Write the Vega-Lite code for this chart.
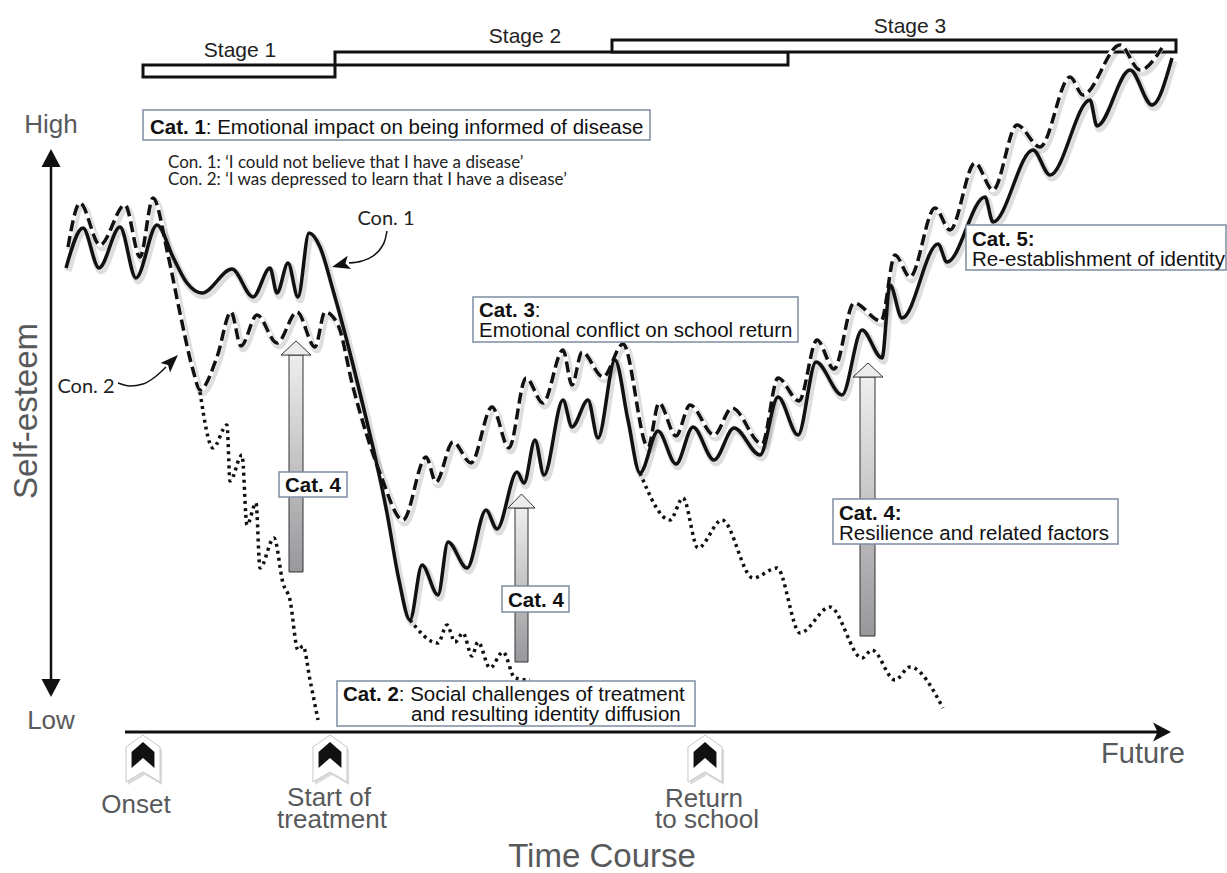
{
  "$schema": "https://vega.github.io/schema/vega-lite/v6.json",
  "width": 1227,
  "height": 873,
  "autosize": {"type": "none"},
  "padding": 0,
  "background": "white",
  "config": {"view": {"stroke": null}},
  "datasets": {
    "solid": [
      {"x":66,"y":268},{"x":83,"y":228},{"x":99,"y":268},{"x":120,"y":227},{"x":136,"y":278},{"x":157,"y":225},{"x":173,"y":257},{"x":187,"y":283},{"x":202,"y":293},{"x":232,"y":269},{"x":253,"y":297},{"x":270,"y":268},{"x":277,"y":293},{"x":288,"y":263},{"x":298,"y":297},{"x":309,"y":233},{"x":320,"y":247},{"x":333,"y":290},{"x":360,"y":393},{"x":387,"y":513},{"x":399,"y":580},{"x":410,"y":620},{"x":422,"y":565},{"x":438,"y":595},{"x":448,"y":542},{"x":467,"y":568},{"x":486,"y":510},{"x":497,"y":529},{"x":517,"y":472},{"x":524,"y":483},{"x":535,"y":440},{"x":544,"y":475},{"x":563,"y":400},{"x":572,"y":427},{"x":588,"y":400},{"x":598,"y":438},{"x":615,"y":360},{"x":628,"y":420},{"x":640,"y":473},{"x":658,"y":431},{"x":676,"y":464},{"x":693,"y":427},{"x":714,"y":460},{"x":734,"y":428},{"x":760,"y":455},{"x":778,"y":397},{"x":798,"y":435},{"x":816,"y":362},{"x":842,"y":395},{"x":862,"y":330},{"x":882,"y":358},{"x":890,"y":285},{"x":902,"y":318},{"x":938,"y":244},{"x":947,"y":262},{"x":985,"y":197},{"x":993,"y":222},{"x":1033,"y":150},{"x":1050,"y":175},{"x":1090,"y":100},{"x":1097,"y":126},{"x":1130,"y":70},{"x":1152,"y":105},{"x":1172,"y":58}
    ],
    "dashed": [
      {"x":68,"y":247},{"x":80,"y":203},{"x":100,"y":245},{"x":125,"y":205},{"x":140,"y":257},{"x":153,"y":198},{"x":168,"y":255},{"x":180,"y":313},{"x":193,"y":370},{"x":200,"y":390},{"x":217,"y":357},{"x":231,"y":312},{"x":241,"y":346},{"x":257,"y":315},{"x":277,"y":343},{"x":297,"y":312},{"x":315,"y":347},{"x":325,"y":312},{"x":338,"y":325},{"x":353,"y":387},{"x":380,"y":473},{"x":403,"y":520},{"x":426,"y":457},{"x":436,"y":482},{"x":453,"y":442},{"x":471,"y":463},{"x":492,"y":407},{"x":509,"y":448},{"x":526,"y":378},{"x":543,"y":403},{"x":563,"y":350},{"x":572,"y":385},{"x":582,"y":352},{"x":603,"y":377},{"x":623,"y":344},{"x":648,"y":447},{"x":659,"y":403},{"x":676,"y":436},{"x":690,"y":405},{"x":714,"y":435},{"x":732,"y":408},{"x":762,"y":444},{"x":778,"y":378},{"x":799,"y":401},{"x":817,"y":340},{"x":834,"y":369},{"x":854,"y":303},{"x":881,"y":321},{"x":895,"y":255},{"x":910,"y":277},{"x":935,"y":208},{"x":950,"y":230},{"x":975,"y":163},{"x":993,"y":190},{"x":1017,"y":125},{"x":1040,"y":147},{"x":1070,"y":77},{"x":1083,"y":95},{"x":1120,"y":45},{"x":1140,"y":70},{"x":1162,"y":48}
    ],
    "dotted": [
      {"s":1,"x":200,"y":392},{"s":1,"x":213,"y":448},{"s":1,"x":227,"y":425},{"s":1,"x":230,"y":481},{"s":1,"x":242,"y":455},{"s":1,"x":247,"y":525},{"s":1,"x":256,"y":503},{"s":1,"x":260,"y":568},{"s":1,"x":274,"y":538},{"s":1,"x":283,"y":583},{"s":1,"x":290,"y":600},{"s":1,"x":298,"y":650},{"s":1,"x":303,"y":646},{"s":1,"x":310,"y":680},{"s":1,"x":318,"y":720},
      {"s":2,"x":410,"y":620},{"s":2,"x":438,"y":643},{"s":2,"x":447,"y":625},{"s":2,"x":455,"y":642},{"s":2,"x":463,"y":633},{"s":2,"x":472,"y":656},{"s":2,"x":478,"y":642},{"s":2,"x":490,"y":668},{"s":2,"x":503,"y":652},{"s":2,"x":515,"y":678},{"s":2,"x":530,"y":680},
      {"s":3,"x":640,"y":473},{"s":3,"x":670,"y":520},{"s":3,"x":683,"y":498},{"s":3,"x":698,"y":548},{"s":3,"x":722,"y":520},{"s":3,"x":753,"y":578},{"s":3,"x":777,"y":568},{"s":3,"x":800,"y":633},{"s":3,"x":830,"y":607},{"s":3,"x":862,"y":658},{"s":3,"x":872,"y":650},{"s":3,"x":895,"y":680},{"s":3,"x":910,"y":667},{"s":3,"x":943,"y":708}
    ],
    "chev": [{"x":143,"y":759},{"x":330,"y":759},{"x":705,"y":759}],
    "chevIn": [{"x":143,"y":755},{"x":330,"y":755},{"x":705,"y":755}]
  },
  "encoding": {
    "x": {"field": "x", "type": "quantitative", "scale": {"domain": [0, 1227], "nice": false, "zero": false}, "axis": null},
    "y": {"field": "y", "type": "quantitative", "scale": {"domain": [0, 873], "nice": false, "zero": false, "reverse": true}, "axis": null}
  },
  "layer": [
    {
      "data": {"values": [{"x":143,"x2":335,"y":65,"y2":77},{"x":335,"x2":788,"y":52,"y2":65},{"x":612,"x2":1176,"y":40,"y2":52}]},
      "mark": {"type": "rect", "fill": "white", "stroke": "#111", "strokeWidth": 3},
      "encoding": {"x2": {"field": "x2"}, "y2": {"field": "y2"}}
    },
    {
      "data": {"values": [{"x":240,"y":57,"t":"Stage 1"},{"x":525,"y":43,"t":"Stage 2"},{"x":910,"y":33,"t":"Stage 3"}]},
      "mark": {"type": "text", "align": "center", "baseline": "alphabetic", "font": "Liberation Sans", "fontSize": 21, "color": "#222"},
      "encoding": {"text": {"field": "t"}}
    },
    {
      "data": {"values": [{"x":51,"y":160,"y2":688}]},
      "mark": {"type": "rule", "strokeWidth": 2.5, "color": "#111"},
      "encoding": {"y2": {"field": "y2"}}
    },
    {
      "data": {"values": [{"x":125,"x2":1160,"y":732}]},
      "mark": {"type": "rule", "strokeWidth": 3, "color": "#111"},
      "encoding": {"x2": {"field": "x2"}}
    },
    {
      "data": {"values": [{"x":51,"y":158}]},
      "mark": {"type": "point", "shape": "M0,-0.9L0.95,0.9L-0.95,0.9Z", "size": 400, "filled": true, "color": "#111", "opacity": 1, "strokeWidth": 0}
    },
    {
      "data": {"values": [{"x":51,"y":688}]},
      "mark": {"type": "point", "shape": "M0,0.9L0.95,-0.9L-0.95,-0.9Z", "size": 400, "filled": true, "color": "#111", "opacity": 1, "strokeWidth": 0}
    },
    {
      "data": {"values": [{"x":1162,"y":732}]},
      "mark": {"type": "point", "shape": "M0.9,0L-0.9,-0.95L-0.45,0L-0.9,0.95Z", "size": 400, "filled": true, "color": "#111", "opacity": 1, "strokeWidth": 0}
    },
    {
      "data": {"name": "chev"},
      "mark": {"type": "point", "shape": "M0,-1L0.71,-0.5L0.71,0.96L0,0.54L-0.71,0.96L-0.71,-0.5Z", "size": 2304, "filled": true, "fill": "#888", "opacity": 0.3, "strokeWidth": 0, "xOffset": 2, "yOffset": 3}
    },
    {
      "data": {"name": "chev"},
      "mark": {"type": "point", "shape": "M0,-1L0.71,-0.5L0.71,0.96L0,0.54L-0.71,0.96L-0.71,-0.5Z", "size": 2304, "filled": true, "fill": "white", "stroke": "#c8c8c8", "strokeWidth": 1, "opacity": 1}
    },
    {
      "data": {"name": "chevIn"},
      "mark": {"type": "point", "shape": "M0,-1L0.88,-0.23L0.88,1L0,0.23L-0.88,1L-0.88,-0.23Z", "size": 676, "filled": true, "fill": "#111", "strokeWidth": 0, "opacity": 1}
    },
    {
      "data": {"name": "dashed"},
      "mark": {"type": "line", "interpolate": "monotone", "color": "#000", "opacity": 0.13, "strokeWidth": 7, "xOffset": 2, "yOffset": 3}
    },
    {
      "data": {"name": "solid"},
      "mark": {"type": "line", "interpolate": "monotone", "color": "#000", "opacity": 0.13, "strokeWidth": 7, "xOffset": 2, "yOffset": 3}
    },
    {
      "data": {"name": "dotted"},
      "mark": {"type": "line", "interpolate": "monotone", "color": "#111", "strokeWidth": 3.5, "strokeDash": [3, 4]},
      "encoding": {"detail": {"field": "s"}}
    },
    {
      "data": {"name": "dashed"},
      "mark": {"type": "line", "interpolate": "monotone", "color": "white", "strokeWidth": 4.5}
    },
    {
      "data": {"name": "dashed"},
      "mark": {"type": "line", "interpolate": "monotone", "color": "#111", "strokeWidth": 3.5, "strokeDash": [11, 5]}
    },
    {
      "data": {"name": "solid"},
      "mark": {"type": "line", "interpolate": "monotone", "color": "#111", "strokeWidth": 3.5}
    },
    {
      "data": {"values": [
        {"s":1,"x":349,"y":263},{"s":1,"x":362,"y":261},{"s":1,"x":373,"y":256},{"s":1,"x":381,"y":248},{"s":1,"x":385,"y":240},{"s":1,"x":387,"y":231},
        {"s":2,"x":118,"y":383},{"s":2,"x":130,"y":386},{"s":2,"x":143,"y":384},{"s":2,"x":155,"y":377},{"s":2,"x":166,"y":367}
      ]},
      "mark": {"type": "line", "interpolate": "monotone", "color": "#111", "strokeWidth": 1.5},
      "encoding": {"detail": {"field": "s"}}
    },
    {
      "data": {"values": [{"x":340.7,"y":264.7}]},
      "mark": {"type": "point", "shape": "M-1,0L1,-0.75L0.55,0L1,0.75Z", "size": 324, "angle": -15, "filled": true, "color": "#111", "opacity": 1, "strokeWidth": 0}
    },
    {
      "data": {"values": [{"x":171.6,"y":361.4}]},
      "mark": {"type": "point", "shape": "M1,0L-1,-0.75L-0.55,0L-1,0.75Z", "size": 324, "angle": -45, "filled": true, "color": "#111", "opacity": 1, "strokeWidth": 0}
    },
    {
      "data": {"values": [{"x":289,"x2":303,"y":355,"y2":572},{"x":515,"x2":528,"y":508,"y2":662},{"x":860,"x2":875,"y":377,"y2":636}]},
      "mark": {"type": "rect", "stroke": "#333", "strokeWidth": 1,
        "fill": {"gradient": "linear", "x1": 0, "y1": 0, "x2": 0, "y2": 1, "stops": [{"offset": 0, "color": "#eeeeee"}, {"offset": 1, "color": "#98989c"}]}},
      "encoding": {"x2": {"field": "x2"}, "y2": {"field": "y2"}}
    },
    {
      "data": {"values": [{"x":296,"y":348},{"x":868,"y":370}]},
      "mark": {"type": "point", "shape": "M0,-0.47L1,0.47L-1,0.47Z", "size": 900, "filled": true, "fill": "#ececec", "stroke": "#333", "strokeWidth": 1, "opacity": 1}
    },
    {
      "data": {"values": [{"x":521.5,"y":501}]},
      "mark": {"type": "point", "shape": "M0,-0.52L1,0.52L-1,0.52Z", "size": 729, "filled": true, "fill": "#ececec", "stroke": "#333", "strokeWidth": 1, "opacity": 1}
    },
    {
      "data": {"values": [
        {"x":143,"x2":650,"y":110,"y2":140},
        {"x":473,"x2":798,"y":297,"y2":342},
        {"x":279,"x2":347,"y":472,"y2":497},
        {"x":502,"x2":569,"y":586,"y2":612},
        {"x":833,"x2":1118,"y":499,"y2":544},
        {"x":966,"x2":1226,"y":225,"y2":270},
        {"x":337,"x2":695,"y":681,"y2":726}
      ]},
      "mark": {"type": "rect", "fill": "white", "stroke": "#7d8ca3", "strokeWidth": 1.5},
      "encoding": {"x2": {"field": "x2"}, "y2": {"field": "y2"}}
    },
    {
      "data": {"values": [
        {"x":150,"y":134,"t":"Cat. 1"},
        {"x":343,"y":701,"t":"Cat. 2"},
        {"x":479,"y":317,"t":"Cat. 3"},
        {"x":285,"y":492,"t":"Cat. 4"},
        {"x":508,"y":607,"t":"Cat. 4"},
        {"x":839,"y":520,"t":"Cat. 4:"},
        {"x":972,"y":246,"t":"Cat. 5:"}
      ]},
      "mark": {"type": "text", "align": "left", "baseline": "alphabetic", "font": "Liberation Sans", "fontSize": 20.5, "fontWeight": "bold", "color": "#111"},
      "encoding": {"text": {"field": "t"}}
    },
    {
      "data": {"values": [
        {"x":205.8,"y":134,"t":": Emotional impact on being informed of disease"},
        {"x":398.8,"y":701,"t":": Social challenges of treatment"},
        {"x":411,"y":721,"t":"and resulting identity diffusion"},
        {"x":534.8,"y":317,"t":":"},
        {"x":479,"y":337,"t":"Emotional conflict on school return"},
        {"x":839,"y":540,"t":"Resilience and related factors"},
        {"x":972,"y":266,"t":"Re-establishment of identity"}
      ]},
      "mark": {"type": "text", "align": "left", "baseline": "alphabetic", "font": "Liberation Sans", "fontSize": 20.5, "color": "#111"},
      "encoding": {"text": {"field": "t"}}
    },
    {
      "data": {"values": [
        {"x":168,"y":168,"t":"Con. 1: ‘I could not believe that I have a disease’"},
        {"x":168,"y":185,"t":"Con. 2: ‘I was depressed to learn that I have a disease’"}
      ]},
      "mark": {"type": "text", "align": "left", "baseline": "alphabetic", "font": "Lato", "fontSize": 17, "color": "#222"},
      "encoding": {"text": {"field": "t"}}
    },
    {
      "data": {"values": [{"x":386,"y":225,"t":"Con. 1"},{"x":86,"y":393,"t":"Con. 2"}]},
      "mark": {"type": "text", "align": "center", "baseline": "alphabetic", "font": "Lato", "fontSize": 20, "color": "#222"},
      "encoding": {"text": {"field": "t"}}
    },
    {
      "data": {"values": [
        {"x":51,"y":133,"t":"High"},
        {"x":51,"y":729,"t":"Low"},
        {"x":136,"y":813,"t":"Onset"},
        {"x":329,"y":806,"t":"Start of"},
        {"x":332,"y":828,"t":"treatment"},
        {"x":704,"y":807,"t":"Return"},
        {"x":707,"y":828,"t":"to school"}
      ]},
      "mark": {"type": "text", "align": "center", "baseline": "alphabetic", "font": "Liberation Sans", "fontSize": 26, "color": "#58595b"},
      "encoding": {"text": {"field": "t"}}
    },
    {
      "data": {"values": [{"x":1143,"y":763,"t":"Future"}]},
      "mark": {"type": "text", "align": "center", "baseline": "alphabetic", "font": "Liberation Sans", "fontSize": 29, "color": "#58595b"},
      "encoding": {"text": {"field": "t"}}
    },
    {
      "data": {"values": [{"x":602,"y":867,"t":"Time Course"}]},
      "mark": {"type": "text", "align": "center", "baseline": "alphabetic", "font": "Liberation Sans", "fontSize": 33, "color": "#58595b"},
      "encoding": {"text": {"field": "t"}}
    },
    {
      "data": {"values": [{"x":37,"y":411,"t":"Self-esteem"}]},
      "mark": {"type": "text", "align": "center", "baseline": "alphabetic", "angle": 270, "font": "Liberation Sans", "fontSize": 33, "color": "#58595b"},
      "encoding": {"text": {"field": "t"}}
    }
  ]
}
